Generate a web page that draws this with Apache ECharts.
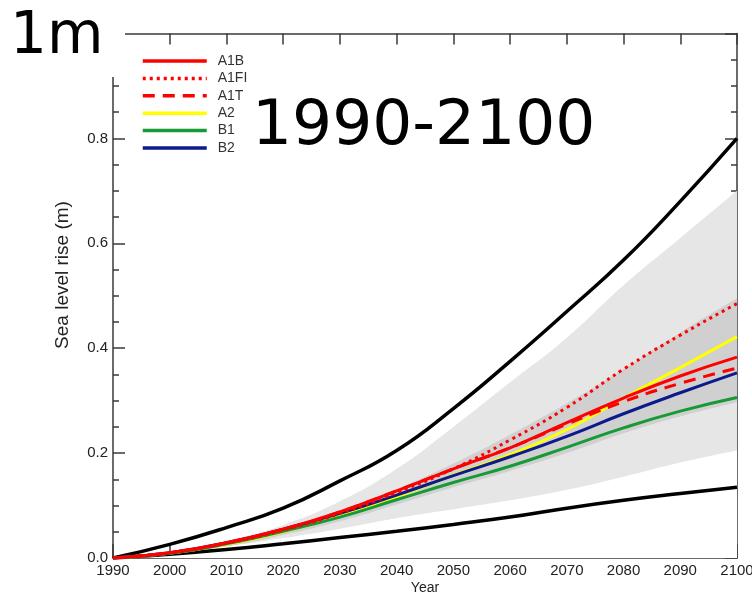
<!DOCTYPE html>
<html><head><meta charset="utf-8">
<script src="https://cdn.jsdelivr.net/npm/echarts@6/dist/echarts.min.js"></script>
<style>html,body{margin:0;padding:0;background:#fff}#c{width:752px;height:600px}</style>
</head><body><div id="c"></div>
<script>
const years = [1990, 2000, 2010, 2020, 2030, 2040, 2050, 2060, 2070, 2080, 2090, 2100];
const upperBlack = [0, 0.026, 0.058, 0.095, 0.147, 0.205, 0.285, 0.375, 0.47, 0.568, 0.68, 0.80];
const lowerBlack = [0, 0.007, 0.016, 0.027, 0.039, 0.051, 0.064, 0.078, 0.095, 0.11, 0.123, 0.135];
const outerHigh = [0, 0.012, 0.033, 0.063, 0.108, 0.17, 0.25, 0.335, 0.42, 0.52, 0.61, 0.70];
const outerLow = [0, 0.009, 0.022, 0.038, 0.056, 0.076, 0.093, 0.11, 0.13, 0.155, 0.182, 0.205];
const innerHigh = [0, 0.009, 0.026, 0.05, 0.08, 0.13, 0.18, 0.235, 0.295, 0.36, 0.43, 0.495];
const innerLow = [0, 0.007, 0.022, 0.044, 0.07, 0.102, 0.135, 0.166, 0.2, 0.238, 0.27, 0.297];
const A1B = [0, 0.01, 0.029, 0.055, 0.088, 0.128, 0.17, 0.21, 0.258, 0.305, 0.347, 0.383];
const A1FI = [0, 0.01, 0.028, 0.053, 0.085, 0.125, 0.17, 0.225, 0.287, 0.36, 0.425, 0.485];
const A1T = [0, 0.01, 0.029, 0.055, 0.088, 0.128, 0.17, 0.21, 0.255, 0.298, 0.333, 0.362];
const A2 = [0, 0.009, 0.026, 0.05, 0.08, 0.117, 0.158, 0.197, 0.245, 0.305, 0.363, 0.422];
const B1 = [0, 0.009, 0.027, 0.051, 0.078, 0.111, 0.144, 0.175, 0.211, 0.248, 0.28, 0.306];
const B2 = [0, 0.01, 0.029, 0.055, 0.085, 0.12, 0.157, 0.193, 0.232, 0.275, 0.315, 0.353];
const scenarioNames = ['A1B', 'A1FI', 'A1T', 'A2', 'B1', 'B2'];
const titleTopLeft = '1m';
const titleRange = '1990-2100';
const xName = 'Year';
const yName = 'Sea level rise (m)';

const pair = arr => years.map((y, i) => [y, arr[i]]);
const FONT = '"Liberation Sans", Arial, sans-serif';
const AX = '#3a3a3a';
const SMOOTH = 0.5;

function line(name, data, color, type, width) {
  return { name, type: 'line', data: pair(data), symbol: 'none', smooth: SMOOTH,
    lineStyle: { color, width: width || 3, type: type || 'solid', cap: 'butt' }, itemStyle: { color }, z: 5 };
}
function area(name, data, color, z) {
  return { name, type: 'line', data: pair(data), symbol: 'none', smooth: SMOOTH, silent: true,
    lineStyle: { width: 0, opacity: 0 }, areaStyle: { color, opacity: 1, origin: 'start' }, z };
}

const chart = echarts.init(document.getElementById('c'), null, { renderer: 'canvas' });
chart.setOption({
  animation: false,
  backgroundColor: '#fff',
  grid: { left: 113, right: 15, top: 33.5, bottom: 42, containLabel: false, outerBoundsMode: 'none' },
  legend: {
    data: scenarioNames, orient: 'vertical', left: 141, top: 54, padding: 0,
    itemWidth: 64, itemHeight: 15, itemGap: 3.4,
    itemStyle: { opacity: 0, borderWidth: 0 },
    lineStyle: { width: 3.5 },
    textStyle: { fontFamily: FONT, fontSize: 14, color: '#333', padding: [0, 0, 0, 6] },
    selectedMode: false
  },
  xAxis: [
    { type: 'value', min: 1990, max: 2100, interval: 10,
      axisLine: { onZero: false, lineStyle: { color: AX, width: 1.5 } },
      axisTick: { inside: true, length: 14, lineStyle: { color: AX, width: 1.5 } },
      axisLabel: { fontFamily: FONT, fontSize: 15, color: '#222', margin: 5, formatter: v => String(v) },
      splitLine: { show: false } },
    { type: 'value', position: 'top', min: 1990, max: 2100, interval: 10,
      axisLine: { onZero: false, lineStyle: { color: AX, width: 1.5 } },
      axisTick: { inside: true, length: 11, lineStyle: { color: AX, width: 1.5 } },
      axisLabel: { show: false }, splitLine: { show: false } }
  ],
  yAxis: [
    { type: 'value', min: 0, max: 1, interval: 0.2,
      axisLine: { show: true, onZero: false, lineStyle: { color: AX, width: 1.5 } },
      axisTick: { show: true, inside: true, length: 12, lineStyle: { color: AX, width: 1.5 } },
      minorTick: { show: true, splitNumber: 4, length: 6, lineStyle: { color: AX, width: 1.5 } },
      axisLabel: { fontFamily: FONT, fontSize: 15, color: '#222', margin: 5, formatter: v => v.toFixed(1) },
      splitLine: { show: false } },
    { type: 'value', position: 'right', min: 0, max: 1, interval: 0.2,
      axisLine: { show: true, onZero: false, lineStyle: { color: AX, width: 1.5 } },
      axisTick: { show: true, inside: true, length: 12, lineStyle: { color: AX, width: 1.5 } },
      minorTick: { show: true, splitNumber: 4, length: 6, lineStyle: { color: AX, width: 1.5 } },
      axisLabel: { show: false }, splitLine: { show: false } }
  ],
  series: [
    area('outerHigh', outerHigh, '#e6e6e6', 1),
    area('innerHigh', innerHigh, '#d0d0d0', 2),
    area('innerLow', innerLow, '#e6e6e6', 3),
    area('outerLow', outerLow, '#ffffff', 4),
    line('upper', upperBlack, '#000', 'solid', 3.5),
    line('lower', lowerBlack, '#000', 'solid', 3.5),
    line('A2', A2, '#ffff00'),
    line('B1', B1, '#169a36'),
    line('B2', B2, '#0c1a8c'),
    line('A1T', A1T, '#ff0000', [12, 8]),
    line('A1B', A1B, '#ff0000'),
    line('A1FI', A1FI, '#ff0000', [3, 4])
  ],
  graphic: [
    { type: 'rect', left: 0, top: 0, shape: { width: 125, height: 77 }, style: { fill: '#fff' }, z: 100 },
    { type: 'text', x: 10, y: 38, z: 101,
      style: { text: titleTopLeft, fontFamily: 'DejaVu Sans', fontSize: 58, fill: '#000', textVerticalAlign: 'middle' } },
    { type: 'text', x: 252, y: 128, z: 101,
      style: { text: titleRange, fontFamily: 'DejaVu Sans', fontSize: 63, fill: '#000', textVerticalAlign: 'middle' } },
    { type: 'text', x: 63, y: 275, rotation: Math.PI / 2, z: 101,
      style: { text: yName, fontFamily: FONT, fontSize: 19, fill: '#222', textAlign: 'center', textVerticalAlign: 'middle' } },
    { type: 'text', x: 425, y: 588, z: 101,
      style: { text: xName, fontFamily: FONT, fontSize: 14, fill: '#222', textAlign: 'center', textVerticalAlign: 'middle' } }
  ]
});
</script>
</body></html>
